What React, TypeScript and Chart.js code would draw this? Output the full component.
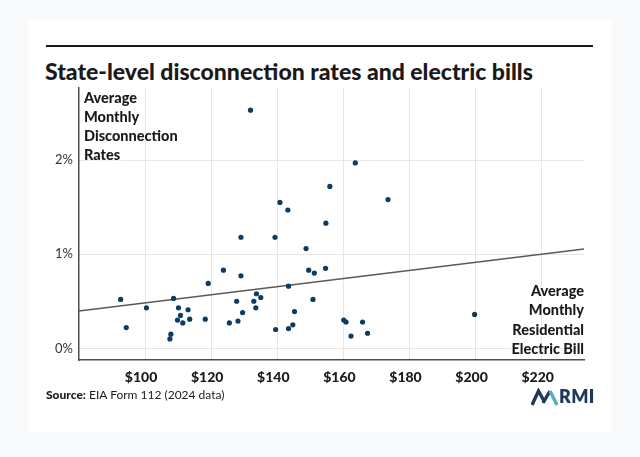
import React, { useEffect, useRef } from "react";
import Chart from "chart.js/auto";

// Average monthly residential electric bill ($) per state
const billUSD = [
  92.6, 94.3, 100.4, 107.5, 107.8, 108.6, 109.8, 110.1, 110.7, 111.4,
  113.0, 113.5, 118.2, 119.1, 123.7, 125.5, 127.7, 128.1, 129.0, 129.0,
  129.5, 131.9, 132.9, 133.5, 133.7, 135.0, 139.3, 139.5, 140.8, 143.2,
  143.4, 143.4, 144.7, 145.2, 148.7, 149.5, 150.8, 151.2, 154.6, 154.7,
  155.9, 160.1, 160.8, 162.3, 163.6, 165.8, 167.3, 173.5, 199.7,
];

// Average monthly disconnection rate (%) per state, same order
const disconnectPct = [
  0.52, 0.22, 0.43, 0.10, 0.15, 0.53, 0.30, 0.43, 0.35, 0.27,
  0.41, 0.31, 0.31, 0.69, 0.83, 0.27, 0.50, 0.29, 1.18, 0.77,
  0.38, 2.53, 0.50, 0.43, 0.58, 0.54, 1.18, 0.20, 1.55, 1.47,
  0.66, 0.21, 0.25, 0.39, 1.06, 0.83, 0.52, 0.80, 0.85, 1.33,
  1.72, 0.30, 0.28, 0.13, 1.97, 0.28, 0.16, 1.58, 0.36,
];

// Linear trend line end points
const trendBillUSD = [80, 232.8];
const trendPct = [0.397, 1.056];

const billTicks = [100, 120, 140, 160, 180, 200, 220];
const pctTicks = [0, 1, 2];

const FONT = "Lato, 'Open Sans', sans-serif";
const INK = "#1a1a1a";

export default function App() {
  const canvasRef = useRef<HTMLCanvasElement>(null);

  useEffect(() => {
    const canvas = canvasRef.current;
    if (!canvas) return;
    const chart = new Chart(canvas, {
      type: "scatter",
      data: {
        datasets: [
          {
            type: "scatter",
            data: billUSD.map((b, i) => ({ x: b, y: disconnectPct[i] })),
            backgroundColor: "#0c3b63",
            borderWidth: 0,
            pointRadius: 2.6,
            order: 0,
          },
          {
            type: "line",
            data: trendBillUSD.map((b, i) => ({ x: b, y: trendPct[i] })),
            borderColor: "#595959",
            borderWidth: 1.4,
            pointRadius: 0,
            fill: false,
            order: 1,
          },
        ],
      },
      options: {
        animation: false,
        responsive: false,
        devicePixelRatio: 1,
        layout: { padding: { left: 0, top: 88, right: 56, bottom: 67 } },
        plugins: { legend: { display: false }, tooltip: { enabled: false } },
        scales: {
          x: {
            type: "linear",
            min: 80,
            max: 232.8,
            afterFit: (s: any) => {
              s.height = 30;
            },
            afterBuildTicks: (s: any) => {
              s.ticks = billTicks.map((v) => ({ value: v }));
            },
            ticks: {
              callback: (v: any) => "$" + v,
              font: { family: FONT, weight: "900", size: 14 },
              color: INK,
              padding: 9,
              labelOffset: -4,
              maxRotation: 0,
              autoSkip: false,
            },
            grid: { color: "#e6e6e6", lineWidth: 1, drawTicks: false },
            border: { color: "#4d4d4d", width: 1.5 },
          },
          y: {
            type: "linear",
            min: -0.124,
            max: 2.766,
            afterFit: (s: any) => {
              s.width = 79;
            },
            afterBuildTicks: (s: any) => {
              s.ticks = pctTicks.map((v) => ({ value: v }));
            },
            ticks: {
              callback: (v: any) => v + "%",
              font: { family: FONT, size: 13 },
              color: "#333333",
              padding: 6,
            },
            grid: { color: "#e6e6e6", lineWidth: 1, drawTicks: false },
            border: { color: "#4d4d4d", width: 1.5 },
          },
        },
      },
    } as any);
    return () => chart.destroy();
  }, []);

  const halo = "0 0 2px #fff, 0 0 3px #fff, 0 0 3px #fff";

  return (
    <div
      style={{
        position: "fixed",
        left: 0,
        top: 0,
        width: 640,
        height: 457,
        background: "#f9fafb",
        overflow: "hidden",
        fontFamily: FONT,
        color: INK,
      }}
    >
      <div
        style={{
          position: "absolute",
          left: 28,
          top: 20,
          width: 584,
          height: 412,
          background: "#ffffff",
        }}
      />
      <div
        style={{
          position: "absolute",
          left: 46,
          top: 45,
          width: 547,
          height: 2,
          background: INK,
        }}
      />
      <div
        style={{
          position: "absolute",
          left: 45,
          top: 60,
          fontSize: 23,
          lineHeight: "23px",
          fontWeight: 900,
          whiteSpace: "nowrap",
        }}
      >
        State-level disconnection rates and electric bills
      </div>
      <canvas
        ref={canvasRef}
        width={640}
        height={457}
        style={{ position: "absolute", left: 0, top: 0, width: 640, height: 457 }}
      />
      <div
        style={{
          position: "absolute",
          left: 84,
          top: 88,
          fontSize: 14.5,
          lineHeight: "19.1px",
          fontWeight: 900,
          textShadow: halo,
        }}
      >
        Average
        <br />
        Monthly
        <br />
        Disconnection
        <br />
        Rates
      </div>
      <div
        style={{
          position: "absolute",
          right: 56,
          top: 281,
          fontSize: 14.5,
          lineHeight: "19.3px",
          fontWeight: 900,
          textAlign: "right",
          textShadow: halo,
        }}
      >
        Average
        <br />
        Monthly
        <br />
        Residential
        <br />
        Electric Bill
      </div>
      <div
        style={{
          position: "absolute",
          left: 46,
          top: 387,
          fontSize: 12,
          lineHeight: "15px",
          whiteSpace: "nowrap",
        }}
      >
        <span style={{ fontWeight: 900 }}>Source:</span> EIA Form 112 (2024 data)
      </div>
      <svg
        style={{ position: "absolute", left: 531, top: 388 }}
        width={28}
        height={18}
        viewBox="0 0 28 18"
      >
        <polyline
          points="1,17 7.5,3 13,13"
          fill="none"
          stroke="#1d3a5c"
          strokeWidth={3.4}
          strokeLinejoin="miter"
        />
        <polyline
          points="12,15 19,3"
          fill="none"
          stroke="#1d3a5c"
          strokeWidth={3.4}
        />
        <polyline
          points="19,3 26,17"
          fill="none"
          stroke="#4fb3bf"
          strokeWidth={3.4}
        />
      </svg>
      <div
        style={{
          position: "absolute",
          left: 559,
          top: 386,
          fontSize: 18,
          lineHeight: "20px",
          fontWeight: 800,
          color: "#1d3a5c",
          letterSpacing: 0.3,
        }}
      >
        RMI
      </div>
    </div>
  );
}
